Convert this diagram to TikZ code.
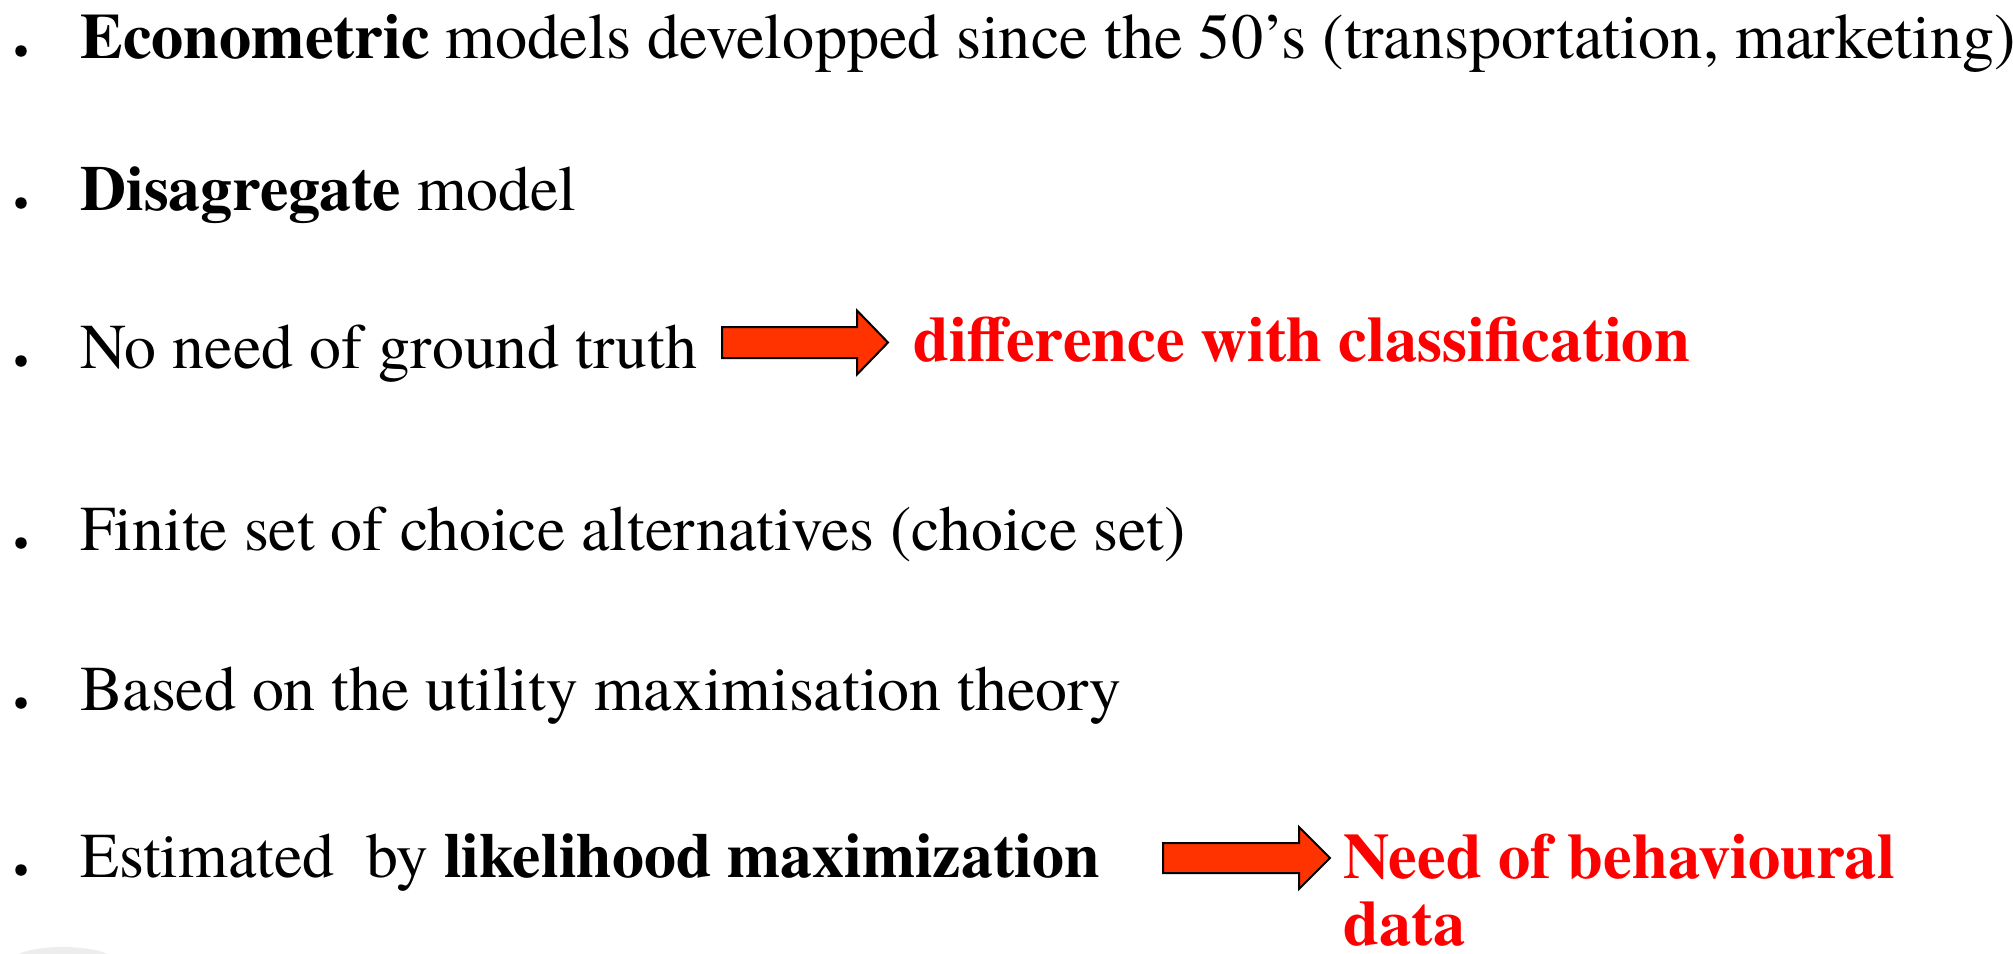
\documentclass[tikz,border=0pt]{standalone}
\usepackage{fontspec}
\setmainfont{texgyretermes}[Extension=.otf, UprightFont=*-regular, BoldFont=*-bold, ItalicFont=*-italic, BoldItalicFont=*-bolditalic]
\definecolor{arrowred}{RGB}{255,51,0}
\definecolor{textred}{RGB}{255,0,0}
\begin{document}
\begin{tikzpicture}[x=1pt,y=-1pt,
  item/.style={anchor=base west,inner sep=0pt,font=\fontsize{63.8}{76}\selectfont},
  wideitem/.style={item,font=\fontsize{64.3}{76}\selectfont},
  note/.style={item,text=textred,font=\fontsize{64.5}{76}\selectfont\bfseries},
  dot/.style={circle,fill=black,inner sep=0pt,minimum size=11.5pt},
  blockarrow/.style={draw=black,line width=2pt,fill=arrowred,line join=miter}]
\useasboundingbox (0,0) rectangle (2013,953);
% faint shadow bottom-left
\fill[black!7] (63,960) ellipse [x radius=50, y radius=13];
% bullets
\foreach \n/\yy in {b1/58,b2/210,b3/368,b4/550,b5/710,b6/877}
  \node[dot] (\n) at (21,\yy-7) {};
% items
\node[wideitem] (l1) at (80,58) {\textbf{Econometric} models developped since the 50’s (transportation, marketing)};
\node[item] (l2) at (80,210) {\textbf{Disagregate} model};
\node[item] (l3) at (80,368) {No need of ground truth};
\node[item] (l4) at (80,550) {Finite set of choice alternatives (choice set)};
\node[item] (l5) at (80,710) {Based on the utility maximisation theory};
\node[item] (l6) at (80,877) {Estimated\ \ by \textbf{likelihood maximization}};
% red notes
\node[note] (n1) at (913,361) {difference with classification};
\node[note] (n2) at (1343,878) {Need of behavioural};
\node[note] (n3) at (1343,945) {data};
% block arrows
\coordinate (a1) at (722,342.5);
\draw[blockarrow] (a1) ++(0,-15.5) -- ++(135,0) -- ++(0,-16.5) -- ++(31,32) -- ++(-31,32) -- ++(0,-16.5) -- ++(-135,0) -- cycle;
\coordinate (a2) at (1163,858);
\draw[blockarrow] (a2) ++(0,-15) -- ++(136,0) -- ++(0,-16) -- ++(31,31) -- ++(-31,31) -- ++(0,-16) -- ++(-136,0) -- cycle;
\end{tikzpicture}
\end{document}
